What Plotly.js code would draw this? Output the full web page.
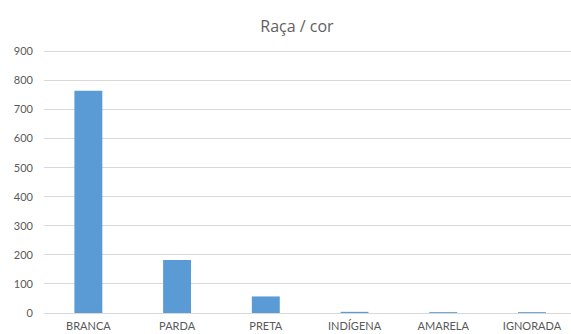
<!DOCTYPE html>
<html>
<head>
<meta charset="utf-8">
<script src="https://cdn.plot.ly/plotly-3.0.1.min.js"></script>
<style>html,body{margin:0;padding:0;background:#fff;}#chart{width:571px;height:334px;}</style>
</head>
<body>
<div id="chart"></div>
<script>
const categories = ["BRANCA", "PARDA", "PRETA", "INDÍGENA", "AMARELA", "IGNORADA"];
const values = [765, 182, 57, 4, 3, 3];
const yTicks = [0, 100, 200, 300, 400, 500, 600, 700, 800, 900];

const trace = {
  type: "bar",
  x: categories,
  y: values,
  marker: { color: "#5b9bd5" },
  hoverinfo: "x+y"
};

const layout = {
  width: 571,
  height: 334,
  margin: { l: 44, r: 0, t: 50, b: 21, pad: 0 },
  paper_bgcolor: "#ffffff",
  plot_bgcolor: "#ffffff",
  showlegend: false,
  bargap: 0.685,
  title: {
    text: "Raça / cor",
    x: 0.52,
    xanchor: "center",
    y: 0.92,
    yanchor: "middle",
    font: { family: "Open Sans, sans-serif", size: 16, color: "#5f5f5f" }
  },
  xaxis: {
    type: "category",
    range: [-0.5, 5.44],
    showgrid: false,
    zeroline: false,
    showline: false,
    ticks: "",
    ticklabelstandoff: 5,
    tickfont: { family: "Lato, sans-serif", size: 11, color: "#595959" }
  },
  yaxis: {
    range: [0, 905],
    tickvals: yTicks,
    ticktext: yTicks.map(String),
    showgrid: true,
    gridcolor: "#d9d9d9",
    gridwidth: 1,
    zeroline: true,
    zerolinecolor: "#d9d9d9",
    zerolinewidth: 1,
    showline: false,
    ticks: "",
    ticklabelstandoff: 10,
    tickfont: { family: "Lato, sans-serif", size: 11, color: "#595959" }
  }
};

Plotly.newPlot("chart", [trace], layout, { staticPlot: true, displayModeBar: false });
</script>
</body>
</html>
